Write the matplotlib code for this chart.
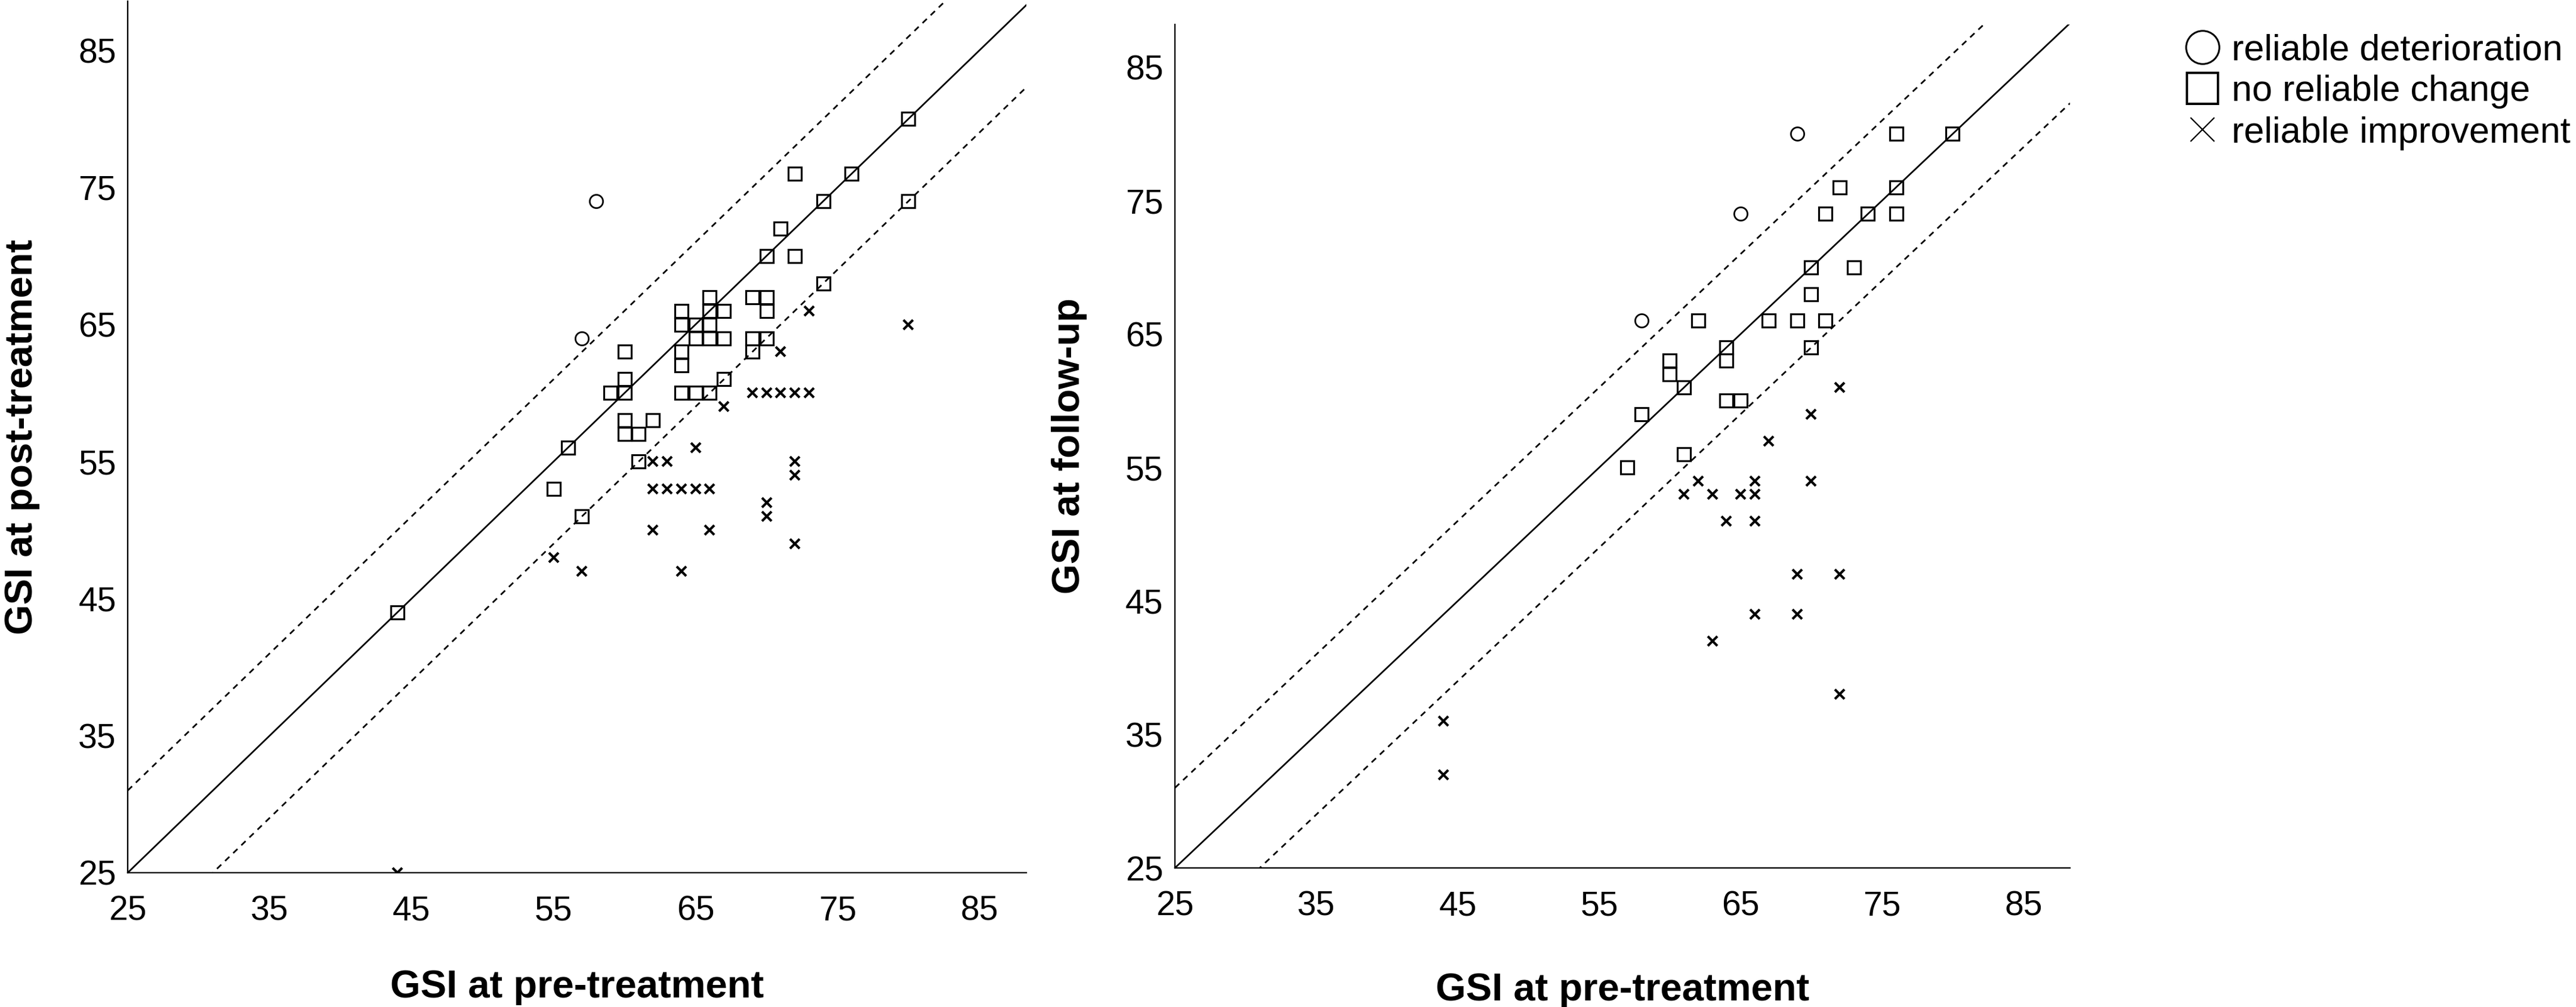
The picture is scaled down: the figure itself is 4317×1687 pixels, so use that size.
import matplotlib
matplotlib.use("Agg")
import numpy as np
import matplotlib.pyplot as plt
from matplotlib.lines import Line2D

plt.rcParams['font.family'] = ['Liberation Sans', 'DejaVu Sans']

# ---------------- data: GSI scores (pre, post) ----------------
post_det_pre = [58, 57]
post_det_val = [74, 64]

post_nc_pre = [80, 72, 76, 74, 80, 71, 70, 72, 74, 66, 69, 70, 64, 66, 67, 70,
               64, 65, 66, 65, 66, 67, 69, 70, 64, 69, 60, 64, 60, 67, 59, 60,
               64, 65, 66, 60, 62, 60, 61, 56, 61, 55, 57, 44]
post_nc_val = [80, 76, 76, 74, 74, 72, 70, 70, 68, 67, 67, 67, 66, 66, 66, 66,
               65, 65, 65, 64, 64, 64, 64, 64, 63, 63, 63, 62, 61, 61, 60, 60,
               60, 60, 60, 58, 58, 57, 57, 56, 55, 53, 51, 44]

post_imp_pre = [73, 80, 71, 69, 70, 71, 72, 73, 67, 65, 62, 63, 72, 72,
                62, 63, 64, 65, 66, 70, 70, 62, 66, 72, 55, 57, 64, 44]
post_imp_val = [66, 65, 63, 60, 60, 60, 60, 60, 59, 56, 55, 55, 55, 54,
                53, 53, 53, 53, 53, 52, 51, 50, 50, 49, 48, 47, 47, 25]

# ---------------- data: GSI scores (pre, follow-up) ----------------
fu_det_pre = [69, 65, 58]
fu_det_val = [80, 74, 66]

fu_nc_pre = [76, 80, 72, 76, 71, 74, 76, 70, 73, 70, 62, 67, 69, 71, 70, 64,
             64, 60, 60, 61, 64, 65, 58, 61, 57]
fu_nc_val = [80, 80, 76, 76, 74, 74, 74, 70, 70, 68, 66, 66, 66, 66, 64, 64,
             63, 63, 62, 61, 60, 60, 59, 56, 55]

fu_imp_pre = [72, 70, 67, 62, 66, 70, 61, 63, 65, 66, 64, 66, 69, 72, 66, 69,
              63, 72, 44, 44]
fu_imp_val = [61, 59, 57, 54, 54, 54, 53, 53, 53, 53, 51, 51, 47, 47, 44, 44,
              42, 38, 36, 32]

rci = 6  # reliable change threshold
ticks = [25, 35, 45, 55, 65, 75, 85]

fig = plt.figure(figsize=(43.17, 16.87), dpi=100)
ax1 = fig.add_axes([0.0496, 0.1334, 0.3488, 0.8656])
ax2 = fig.add_axes([0.4561, 0.1381, 0.3475, 0.8376])

panels = [
    (ax1, post_det_pre, post_det_val, post_nc_pre, post_nc_val,
     post_imp_pre, post_imp_val, 'GSI at post-treatment', 88.6, -0.111),
    (ax2, fu_det_pre, fu_det_val, fu_nc_pre, fu_nc_val,
     fu_imp_pre, fu_imp_val, 'GSI at follow-up', 88.2, -0.1235),
]

for ax, dx, dy, nx, ny, ix, iy, ylab, ytop, xlab_y in panels:
    xs = np.array([25, 88.3])
    ax.plot(xs, xs, color='black', lw=2.0, zorder=1)
    ax.plot(xs, xs + rci, color='black', lw=2.0, ls=(0, (3.6, 3.2)), zorder=1)
    ax.plot(xs, xs - rci, color='black', lw=2.0, ls=(0, (3.6, 3.2)), zorder=1)

    ax.plot(nx, ny, ls='none', marker='s', ms=16.5, mfc='none', mec='black',
            mew=2.3, zorder=3)
    ax.plot(dx, dy, ls='none', marker='o', ms=16, mfc='none', mec='black',
            mew=2.0, zorder=3)
    ax.plot(ix, iy, ls='none', marker='x', ms=12, mec='black', mew=3.0,
            zorder=3)

    ax.set_xlim(25, 88.3)
    ax.set_ylim(25, ytop)
    ax.set_xticks(ticks)
    ax.set_yticks(ticks)
    ax.tick_params(axis='both', length=0, labelsize=41)
    ax.tick_params(axis='x', pad=27)
    ax.tick_params(axis='y', pad=14)
    for s in ['top', 'right']:
        ax.spines[s].set_visible(False)
    for s in ['left', 'bottom']:
        ax.spines[s].set_linewidth(1.7)
    ax.set_xlabel('GSI at pre-treatment', fontsize=47, fontweight='bold')
    ax.set_ylabel(ylab, fontsize=47, fontweight='bold')
    ax.xaxis.set_label_coords(0.5, xlab_y)
    ax.yaxis.set_label_coords(-0.098, 0.5)

handles = [
    Line2D([], [], ls='none', marker='o', ms=40, mfc='none', mec='black', mew=2.2),
    Line2D([], [], ls='none', marker='s', ms=38, mfc='none', mec='black', mew=2.8),
    Line2D([], [], ls='none', marker='x', ms=29, mec='black', mew=1.6),
]
labels = ['reliable deterioration', 'no reliable change', 'reliable improvement']
fig.legend(handles, labels, loc='upper left', bbox_to_anchor=(0.848, 0.9667),
           frameon=False, fontsize=44, handlelength=1.0, handletextpad=0.3,
           labelspacing=0.2, borderpad=0, borderaxespad=0)

fig.savefig('out.png', dpi=100)
